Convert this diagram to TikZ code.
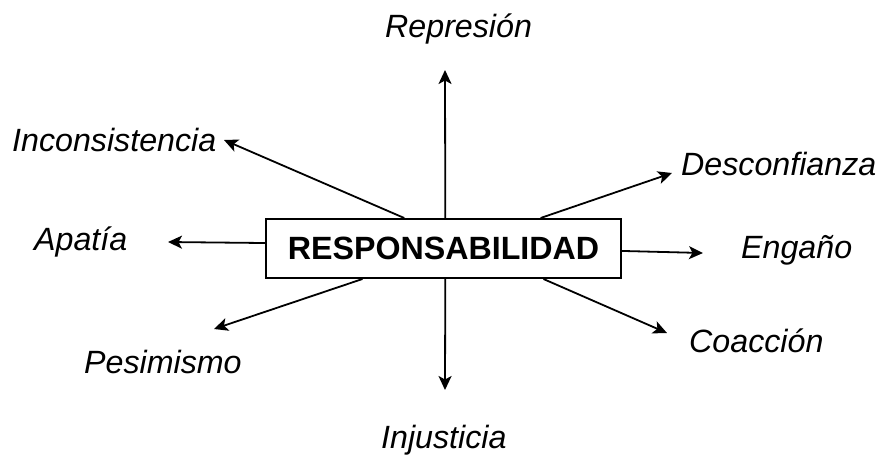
\documentclass[tikz,border=0pt]{standalone}
\usepackage{fontspec}
\setmainfont{Liberation Sans}
\usepackage{tikz}
\usetikzlibrary{arrows.meta,calc,positioning}
\tikzstyle{arrow} = [line width=1.8pt,-{Stealth[length=14pt,width=13pt,inset=3.5pt]}]
\tikzstyle{concept} = [draw, line width=2pt, minimum width=355pt, minimum height=59pt, inner sep=0pt, font=\fontsize{32.2}{37}\selectfont\bfseries]
\tikzstyle{factor} = [anchor=base west, inner sep=0pt, font=\fontsize{32.2}{37}\selectfont\itshape]

\begin{document}
\begin{tikzpicture}[x=1pt, y=-1pt]
\useasboundingbox (0,0) rectangle (877,456);

% Central concept
\node[concept] (resp) at (443.5,248.5) {RESPONSABILIDAD};

% Factors
\node[factor] (represion) at (385,37) {Represión};
\node[factor] (inconsistencia) at (12,151) {Inconsistencia};
\node[factor] (desconfianza) at (681,175) {Desconfianza};
\node[factor] (apatia) at (34,250) {Apatía};
\node[factor] (engano) at (741,258) {Engaño};
\node[factor] (pesimismo) at (84,373) {Pesimismo};
\node[factor] (coaccion) at (689,352) {Coacción};
\node[factor] (injusticia) at (381,448) {Injusticia};

% Arrow tips
\coordinate (tRep) at (445,70);
\coordinate (tInc) at (224,140);
\coordinate (tDes) at (672,173);
\coordinate (tApa) at (168,242);
\coordinate (tEng) at (703,253);
\coordinate (tPes) at (214,329);
\coordinate (tCoa) at (667,333);
\coordinate (tInj) at (445,390);

% Arrows
\draw[arrow] ($(resp.north west)!0.505!(resp.north east)$) -- (tRep);
\draw[arrow] ($(resp.north west)!0.39!(resp.north east)$) -- (tInc);
\draw[arrow] ($(resp.north west)!0.772!(resp.north east)$) -- (tDes);
\draw[arrow] ($(resp.north west)!0.41!(resp.south west)$) -- (tApa);
\draw[arrow] ($(resp.north east)!0.54!(resp.south east)$) -- (tEng);
\draw[arrow] ($(resp.south west)!0.273!(resp.south east)$) -- (tPes);
\draw[arrow] ($(resp.south west)!0.78!(resp.south east)$) -- (tCoa);
\draw[arrow] ($(resp.south west)!0.505!(resp.south east)$) -- (tInj);
\end{tikzpicture}
\end{document}
